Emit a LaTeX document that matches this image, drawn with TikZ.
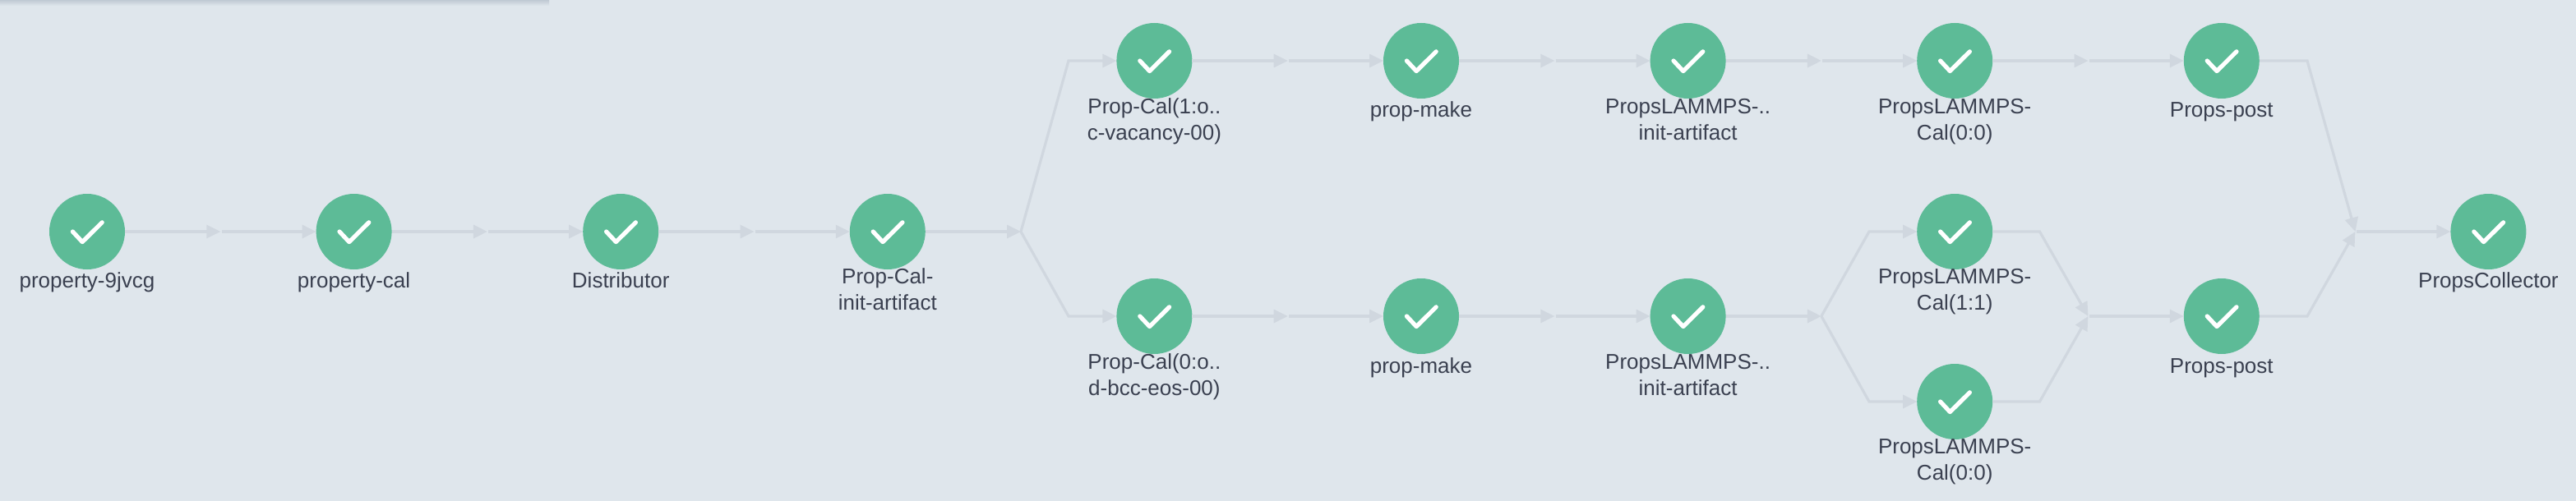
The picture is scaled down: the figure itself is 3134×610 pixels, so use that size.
\documentclass[tikz,border=0pt]{standalone}
\usepackage{fontspec}
\setmainfont{Liberation Sans}
\usetikzlibrary{arrows.meta,calc}
\definecolor{bgc}{HTML}{DFE6EC}
\definecolor{edgec}{HTML}{D0D7DF}
\definecolor{okc}{HTML}{5DBB97}
\definecolor{txtc}{HTML}{3A4050}
\definecolor{barc}{HTML}{BFC9D3}
\tikzset{
  px/.style={x=0.5pt,y=-0.5pt},
  okstep/.style={circle,fill=okc,minimum size=46pt,inner sep=0pt,outer sep=0pt,
    path picture={\draw[white,line width=2.6pt,line cap=round,line join=round]
      ($(path picture bounding box.center)+(-8.8pt,0pt)$) -- ++(5.9pt,-6.3pt) -- ++(12pt,11.9pt);}},
  steplabel/.style={anchor=base,align=center,text=txtc,inner sep=0pt,font=\fontsize{13}{16}\selectfont},
  edgeline/.style={draw=edgec,line width=1.6pt,line join=miter},
  edgetip/.style={edgeline,-{Triangle[length=8.5pt,width=8pt,color=edgec]}},
  fromjoin/.style={shorten <=0.7pt},
}
\begin{document}
\begin{tikzpicture}[px]
\useasboundingbox (0,0) rectangle (3134,610);
\fill[bgc] (0,0) rectangle (3134,610);
\fill[top color=barc,bottom color=bgc] (0,0) rectangle (668,7);
% junctions
\coordinate (j0) at (268.3,282);
\coordinate (j1) at (592.9,282);
\coordinate (j2) at (917.5,282);
\coordinate (j3) at (1242,282);
\coordinate (ta) at (1300,74);
\coordinate (ba) at (1300,385);
\coordinate (t1) at (1566.7,74);
\coordinate (t2) at (1891.3,74);
\coordinate (t3) at (2215.9,74);
\coordinate (t4) at (2540.5,74);
\coordinate (b1) at (1566.7,385);
\coordinate (b2) at (1891.3,385);
\coordinate (b3) at (2215.9,385);
\coordinate (b4) at (2540.5,385);
\coordinate (ca) at (2274,282);
\coordinate (cb) at (2274,489);
\coordinate (da) at (2481.5,282);
\coordinate (db) at (2481.5,489);
\coordinate (ea) at (2807,74);
\coordinate (eb) at (2807,385);
\coordinate (j9) at (2865.5,282);
% nodes
\node[okstep] (n0) at (106,282) {};
\node[okstep] (n1) at (430.6,282) {};
\node[okstep] (n2) at (755.2,282) {};
\node[okstep] (n3) at (1079.8,282) {};
\node[okstep] (u4) at (1404.4,74) {};
\node[okstep] (u5) at (1729,74) {};
\node[okstep] (u6) at (2053.6,74) {};
\node[okstep] (u7) at (2378.2,74) {};
\node[okstep] (u8) at (2702.8,74) {};
\node[okstep] (l4) at (1404.4,385) {};
\node[okstep] (l5) at (1729,385) {};
\node[okstep] (l6) at (2053.6,385) {};
\node[okstep] (c7) at (2378.2,282) {};
\node[okstep] (d7) at (2378.2,489) {};
\node[okstep] (l8) at (2702.8,385) {};
\node[okstep] (n9) at (3027.4,282) {};
% labels
\node[steplabel] (tn0) at (106,350) {property-9jvcg};
\node[steplabel] (tn1) at (430.6,350) {property-cal};
\node[steplabel] (tn2) at (755.2,350) {Distributor};
\node[steplabel] (tn3) at (1079.8,377) {Prop-Cal-\\init-artifact};
\node[steplabel] (tu4) at (1404.4,170) {Prop-Cal(1:o..\\c-vacancy-00)};
\node[steplabel] (tu5) at (1729,143) {prop-make};
\node[steplabel] (tu6) at (2053.6,170) {PropsLAMMPS-..\\init-artifact};
\node[steplabel] (tu7) at (2378.2,170) {PropsLAMMPS-\\Cal(0:0)};
\node[steplabel] (tu8) at (2702.8,143) {Props-post};
\node[steplabel] (tl4) at (1404.4,481) {Prop-Cal(0:o..\\d-bcc-eos-00)};
\node[steplabel] (tl5) at (1729,454) {prop-make};
\node[steplabel] (tl6) at (2053.6,481) {PropsLAMMPS-..\\init-artifact};
\node[steplabel] (tc7) at (2378.2,377) {PropsLAMMPS-\\Cal(1:1)};
\node[steplabel] (td7) at (2378.2,584) {PropsLAMMPS-\\Cal(0:0)};
\node[steplabel] (tl8) at (2702.8,454) {Props-post};
\node[steplabel] (tn9) at (3027.4,350) {PropsCollector};
% connectors
\draw[edgetip] (n0) -- (j0);
\draw[edgetip,fromjoin] (j0) -- (n1);
\draw[edgetip] (n1) -- (j1);
\draw[edgetip,fromjoin] (j1) -- (n2);
\draw[edgetip] (n2) -- (j2);
\draw[edgetip,fromjoin] (j2) -- (n3);
\draw[edgetip] (n3) -- (j3);
\draw[edgetip] (j3) -- (ta) -- (u4);
\draw[edgetip] (j3) -- (ba) -- (l4);
\draw[edgetip] (u4) -- (t1);
\draw[edgetip,fromjoin] (t1) -- (u5);
\draw[edgetip] (u5) -- (t2);
\draw[edgetip,fromjoin] (t2) -- (u6);
\draw[edgetip] (u6) -- (t3);
\draw[edgetip,fromjoin] (t3) -- (u7);
\draw[edgetip] (u7) -- (t4);
\draw[edgetip,fromjoin] (t4) -- (u8);
\draw[edgetip] (l4) -- (b1);
\draw[edgetip,fromjoin] (b1) -- (l5);
\draw[edgetip] (l5) -- (b2);
\draw[edgetip,fromjoin] (b2) -- (l6);
\draw[edgetip] (l6) -- (b3);
\draw[edgetip] (b3) -- (ca) -- (c7);
\draw[edgetip] (b3) -- (cb) -- (d7);
\draw[edgetip] (c7) -- (da) -- (b4);
\draw[edgetip] (d7) -- (db) -- (b4);
\draw[edgetip,fromjoin] (b4) -- (l8);
\draw[edgetip] (u8) -- (ea) -- (j9);
\draw[edgetip] (l8) -- (eb) -- (j9);
\draw[edgetip,fromjoin] (j9) -- (n9);
\end{tikzpicture}
\end{document}
